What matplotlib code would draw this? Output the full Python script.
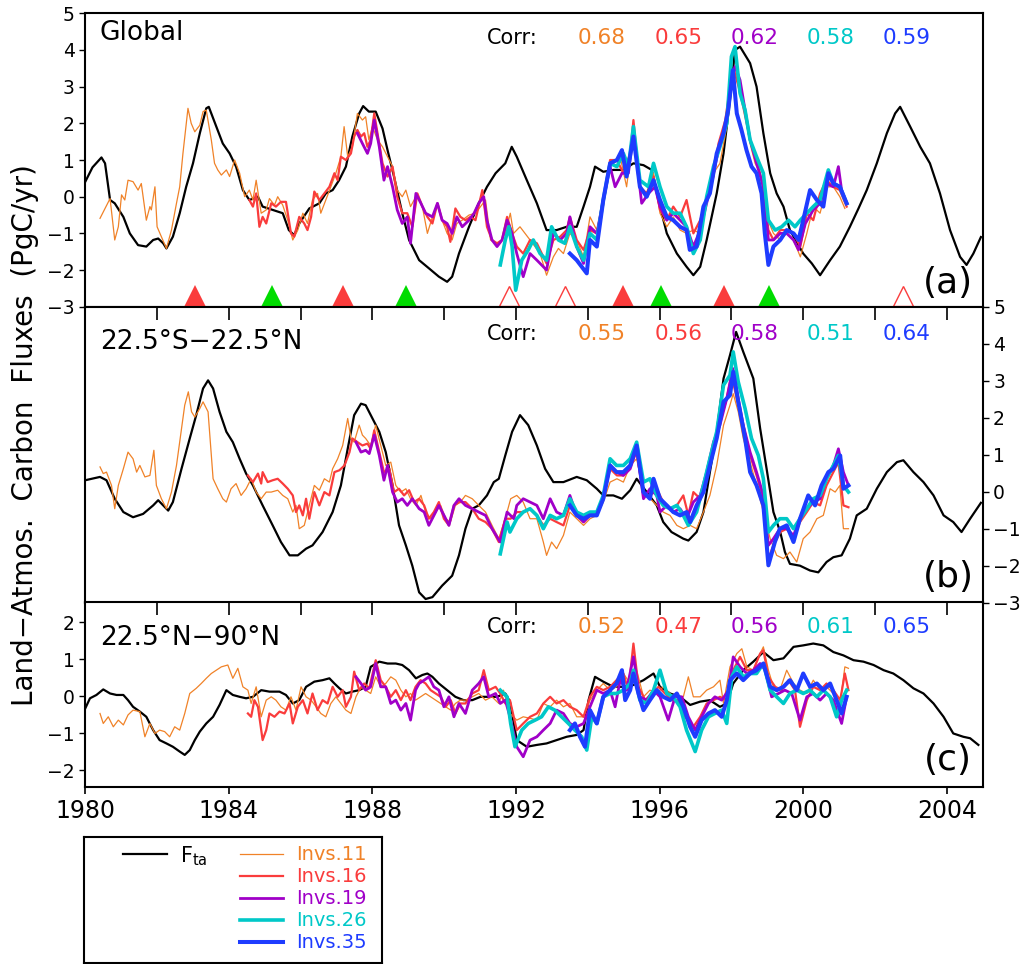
import matplotlib
matplotlib.use("Agg")
import matplotlib.pyplot as plt

# ---- data: (year, PgC/yr) -------------------------------------------------
# Fta (black) for the three regions
fta_global = [
    (1980.0, 0.41), (1980.2, 0.8), (1980.45, 1.07), (1980.55, 0.91), (1980.69, -0.09), (1980.82, -0.18),
    (1981.06, -0.55), (1981.24, -1.0), (1981.47, -1.32), (1981.7, -1.36), (1981.89, -1.18), (1982.03, -1.14),
    (1982.17, -1.27), (1982.26, -1.41), (1982.44, -1.09), (1982.63, -0.45), (1982.81, 0.27), (1983.0, 0.91),
    (1983.19, 1.73), (1983.37, 2.41), (1983.44, 2.45), (1983.65, 1.91), (1983.83, 1.45), (1984.02, 1.18),
    (1984.2, 0.82), (1984.39, 0.18), (1984.57, -0.09), (1984.81, 0.0), (1984.94, -0.27), (1985.22, -0.36),
    (1985.5, -0.45), (1985.67, -0.91), (1985.82, -1.05), (1985.96, -0.73), (1986.24, -0.32), (1986.52, -0.18),
    (1986.7, 0.09), (1986.89, 0.18), (1987.07, 0.45), (1987.26, 0.82), (1987.44, 1.64), (1987.63, 2.27),
    (1987.74, 2.47), (1987.9, 2.32), (1988.09, 2.32), (1988.28, 1.86), (1988.42, 1.27), (1988.6, 0.55),
    (1988.83, -0.45), (1989.02, -1.18), (1989.3, -1.73), (1989.57, -1.95), (1989.85, -2.18), (1990.08, -2.32),
    (1990.22, -2.18), (1990.41, -1.55), (1990.69, -0.82), (1990.96, -0.18), (1991.19, 0.27), (1991.43, 0.64),
    (1991.7, 0.91), (1991.88, 1.36), (1992.02, 1.09), (1992.3, 0.45), (1992.58, -0.18), (1992.85, -0.91),
    (1993.13, -0.91), (1993.41, -0.82), (1993.69, -0.82), (1993.88, -0.27), (1994.06, 0.27), (1994.2, 0.82),
    (1994.43, 0.68), (1994.71, 0.73), (1994.99, 0.73), (1995.27, 0.91), (1995.55, 0.86), (1995.78, 0.73),
    (1996.01, -0.27), (1996.2, -1.0), (1996.48, -1.55), (1996.75, -1.91), (1996.94, -2.14), (1997.13, -1.91),
    (1997.31, -1.18), (1997.59, 0.09), (1997.78, 1.18), (1997.96, 2.64), (1998.1, 4.0), (1998.24, 4.09),
    (1998.52, 3.64), (1998.7, 3.0), (1998.89, 1.73), (1999.08, 0.64), (1999.26, 0.09), (1999.45, -0.27),
    (1999.63, -0.91), (2000.0, -1.55), (2000.24, -1.82), (2000.47, -2.14), (2000.75, -1.73), (2001.02, -1.36),
    (2001.3, -0.82), (2001.54, -0.32), (2001.77, 0.18), (2002.05, 0.91), (2002.33, 1.73), (2002.56, 2.27),
    (2002.7, 2.45), (2002.98, 1.91), (2003.26, 1.36), (2003.53, 0.91), (2003.81, 0.09), (2004.09, -0.91),
    (2004.37, -1.64), (2004.55, -1.86), (2004.74, -1.55), (2004.95, -1.1),
]
fta_tropics = [
    (1980.0, 0.31), (1980.18, 0.35), (1980.41, 0.4), (1980.59, 0.31), (1980.82, -0.19), (1981.06, -0.55),
    (1981.33, -0.69), (1981.61, -0.6), (1981.89, -0.37), (1982.03, -0.23), (1982.17, -0.37), (1982.31, -0.51),
    (1982.44, -0.28), (1982.68, 0.62), (1982.91, 1.44), (1983.09, 2.07), (1983.28, 2.79), (1983.42, 3.01),
    (1983.56, 2.79), (1983.74, 2.16), (1983.93, 1.62), (1984.11, 1.34), (1984.3, 0.89), (1984.48, 0.49),
    (1984.67, 0.17), (1984.94, -0.37), (1985.22, -0.91), (1985.45, -1.36), (1985.69, -1.72), (1985.92, -1.72),
    (1986.15, -1.54), (1986.33, -1.45), (1986.61, -1.09), (1986.89, -0.55), (1987.12, 0.17), (1987.31, 1.16),
    (1987.49, 2.07), (1987.68, 2.38), (1987.81, 2.34), (1988.0, 1.98), (1988.19, 1.62), (1988.37, 1.07),
    (1988.56, 0.17), (1988.74, -0.91), (1988.93, -1.45), (1989.11, -2.0), (1989.3, -2.72), (1989.48, -2.9),
    (1989.67, -2.85), (1989.94, -2.54), (1990.22, -2.27), (1990.41, -1.72), (1990.59, -1.0), (1990.78, -0.46),
    (1990.96, -0.37), (1991.19, -0.1), (1991.38, 0.26), (1991.52, 0.35), (1991.7, 0.98), (1991.89, 1.62),
    (1992.11, 2.07), (1992.34, 1.8), (1992.58, 1.25), (1992.81, 0.62), (1993.04, 0.26), (1993.32, 0.26),
    (1993.69, 0.4), (1993.97, 0.31), (1994.25, 0.08), (1994.43, -0.1), (1994.71, -0.1), (1994.95, -0.19),
    (1995.18, 0.04), (1995.36, 0.35), (1995.64, -0.01), (1995.92, -0.37), (1996.1, -0.82), (1996.33, -1.09),
    (1996.66, -1.27), (1996.8, -1.32), (1997.03, -1.09), (1997.22, -0.55), (1997.4, 0.53), (1997.59, 1.62),
    (1997.78, 3.06), (1997.96, 3.69), (1998.13, 4.32), (1998.33, 3.78), (1998.61, 3.06), (1998.8, 1.71),
    (1998.98, 0.62), (1999.17, -0.55), (1999.36, -1.09), (1999.49, -1.63), (1999.63, -1.95), (1999.91, -2.0),
    (2000.19, -2.13), (2000.42, -2.18), (2000.65, -1.9), (2000.84, -1.77), (2001.07, -1.72), (2001.3, -1.27),
    (2001.49, -0.64), (2001.77, -0.46), (2002.05, 0.08), (2002.33, 0.53), (2002.61, 0.8), (2002.79, 0.85),
    (2003.07, 0.53), (2003.35, 0.26), (2003.63, -0.1), (2003.91, -0.64), (2004.18, -0.82), (2004.41, -1.09),
    (2004.65, -0.73), (2004.95, -0.3),
]
fta_north = [
    (1980.0, -0.33), (1980.13, -0.06), (1980.31, 0.03), (1980.5, 0.18), (1980.69, 0.07), (1980.87, 0.03),
    (1981.06, 0.03), (1981.19, -0.11), (1981.33, -0.29), (1981.52, -0.42), (1981.7, -0.56), (1981.89, -0.92),
    (1982.07, -1.19), (1982.26, -1.28), (1982.44, -1.37), (1982.63, -1.5), (1982.77, -1.59), (1982.91, -1.46),
    (1983.05, -1.19), (1983.19, -0.96), (1983.37, -0.74), (1983.56, -0.56), (1983.74, -0.24), (1983.93, 0.16),
    (1984.11, 0.03), (1984.3, -0.02), (1984.48, -0.06), (1984.67, -0.02), (1984.9, 0.16), (1985.13, 0.12),
    (1985.41, 0.12), (1985.59, 0.03), (1985.78, -0.2), (1985.96, -0.11), (1986.15, 0.25), (1986.38, 0.39),
    (1986.61, 0.43), (1986.8, 0.48), (1986.94, 0.34), (1987.08, 0.21), (1987.26, 0.07), (1987.44, 0.12),
    (1987.63, 0.16), (1987.81, 0.25), (1987.95, 0.79), (1988.19, 0.93), (1988.42, 0.88), (1988.65, 0.88),
    (1988.83, 0.84), (1989.02, 0.7), (1989.21, 0.48), (1989.39, 0.57), (1989.53, 0.61), (1989.67, 0.52),
    (1989.85, 0.34), (1990.08, 0.16), (1990.31, -0.02), (1990.54, -0.11), (1990.78, -0.11), (1991.01, -0.02),
    (1991.24, -0.02), (1991.47, -0.02), (1991.7, 0.07), (1991.83, -0.15), (1992.02, -1.19), (1992.3, -1.37),
    (1992.58, -1.32), (1992.85, -1.28), (1993.13, -1.19), (1993.41, -1.1), (1993.69, -1.05), (1993.88, -0.92),
    (1994.02, -0.11), (1994.2, 0.52), (1994.43, 0.39), (1994.71, 0.25), (1994.99, 0.25), (1995.27, 0.3),
    (1995.55, 0.43), (1995.83, 0.61), (1996.01, 0.25), (1996.29, 0.07), (1996.57, -0.02), (1996.85, -0.24),
    (1997.13, -0.15), (1997.4, -0.11), (1997.68, -0.29), (1997.87, -0.2), (1998.05, 0.34), (1998.33, 0.7),
    (1998.61, 0.93), (1998.89, 1.19), (1999.17, 0.97), (1999.45, 1.02), (1999.73, 1.33), (2000.0, 1.37),
    (2000.28, 1.42), (2000.56, 1.37), (2000.84, 1.19), (2001.12, 1.1), (2001.4, 0.97), (2001.68, 0.93),
    (2001.96, 0.84), (2002.24, 0.7), (2002.51, 0.61), (2002.79, 0.43), (2003.07, 0.21), (2003.35, 0.07),
    (2003.63, -0.2), (2003.91, -0.56), (2004.18, -1.01), (2004.46, -1.1), (2004.65, -1.14), (2004.88, -1.32),
]

# Invs.11
inv11_global = [
    (1980.41, -0.59), (1980.55, -0.32), (1980.69, -0.05), (1980.82, -1.18), (1980.92, -0.82), (1981.01, 0.05),
    (1981.1, -0.09), (1981.19, 0.45), (1981.33, 0.41), (1981.47, 0.18), (1981.56, 0.36), (1981.7, -0.64),
    (1981.8, -0.27), (1981.84, -0.36), (1981.94, 0.27), (1982.0, -0.82), (1982.12, -1.09), (1982.26, -1.41),
    (1982.4, -0.91), (1982.54, -0.18), (1982.63, 0.27), (1982.72, 1.18), (1982.86, 2.41), (1982.95, 2.0),
    (1983.05, 1.77), (1983.19, 1.95), (1983.28, 2.32), (1983.37, 2.36), (1983.51, 1.55), (1983.6, 0.91),
    (1983.69, 0.73), (1983.79, 0.59), (1983.93, 0.73), (1984.02, 0.55), (1984.16, 1.0), (1984.3, 0.64),
    (1984.44, 0.0), (1984.57, 0.18), (1984.67, -0.09), (1984.76, 0.45), (1984.9, -0.45), (1985.04, -0.36),
    (1985.13, -0.05), (1985.27, -0.23), (1985.36, 0.0), (1985.5, -0.23), (1985.64, -0.64), (1985.78, -1.18),
    (1985.92, -0.91), (1986.06, -0.45), (1986.19, -0.73), (1986.33, -0.09), (1986.47, 0.09), (1986.56, -0.45),
    (1986.7, -0.09), (1986.84, 0.27), (1986.98, 0.64), (1987.12, 1.09), (1987.21, 1.91), (1987.31, 1.09),
    (1987.44, 1.36), (1987.58, 2.27), (1987.72, 2.09), (1987.81, 2.18), (1987.9, 1.55), (1988.0, 1.91),
    (1988.14, 1.55), (1988.28, 1.36), (1988.42, 1.09), (1988.56, 0.82), (1988.69, 0.18), (1988.83, 0.0),
    (1988.93, 0.18), (1989.06, -0.27), (1989.16, -0.09), (1989.25, 0.0), (1989.39, -0.27), (1989.53, -1.0),
    (1989.67, -0.55), (1989.81, -0.18), (1989.94, -0.64), (1990.08, -1.0), (1990.22, -1.18), (1990.35, -0.73),
    (1990.5, -0.64), (1990.69, -0.5), (1990.87, -0.45), (1991.01, -0.27), (1991.15, -0.09), (1991.29, -1.18),
    (1991.43, -1.27), (1991.56, -1.27), (1991.7, -1.0), (1991.84, -0.45), (1991.93, -1.0), (1992.11, -0.82),
    (1992.39, -1.18), (1992.67, -1.55), (1992.85, -2.14), (1993.04, -1.64), (1993.18, -1.41), (1993.32, -1.55),
    (1993.5, -1.0), (1993.69, -1.18), (1993.88, -1.64), (1994.06, -0.55), (1994.25, -0.91), (1994.43, -0.27),
    (1994.62, 0.82), (1994.9, 1.09), (1995.08, 0.27), (1995.27, 1.73), (1995.45, 0.27), (1995.64, 0.09),
    (1995.83, 0.64), (1996.01, -0.45), (1996.2, -0.82), (1996.38, -0.55), (1996.57, -0.91), (1996.75, -1.0),
    (1996.94, -0.91), (1997.13, -1.0), (1997.31, -0.18), (1997.5, 0.64), (1997.68, 0.91), (1997.87, 1.91),
    (1998.0, 3.09), (1998.1, 3.55), (1998.24, 2.91), (1998.38, 2.36), (1998.52, 1.45), (1998.66, 0.91),
    (1998.8, 0.64), (1998.98, -0.55), (1999.17, -1.0), (1999.36, -1.18), (1999.54, -1.0), (1999.73, -1.18),
    (1999.92, -1.64), (2000.1, -1.0), (2000.28, -0.27), (2000.47, -0.45), (2000.65, 0.27), (2000.84, 0.27),
    (2001.02, 0.0), (2001.16, -0.32),
]
inv11_tropics = [
    (1980.41, 0.67), (1980.5, 0.49), (1980.59, 0.53), (1980.73, 0.17), (1980.82, -0.46), (1980.92, 0.17),
    (1981.06, 0.62), (1981.19, 1.07), (1981.33, 0.89), (1981.43, 0.53), (1981.52, 0.71), (1981.66, 0.4),
    (1981.8, 0.44), (1981.91, 1.12), (1981.98, 0.17), (1982.12, -0.19), (1982.26, -0.46), (1982.4, -0.01),
    (1982.54, 0.71), (1982.68, 1.71), (1982.77, 2.34), (1982.87, 2.7), (1982.96, 2.16), (1983.05, 2.02),
    (1983.19, 2.25), (1983.28, 2.43), (1983.42, 2.16), (1983.56, 0.35), (1983.69, 0.08), (1983.83, -0.19),
    (1983.93, -0.28), (1984.06, 0.08), (1984.2, 0.22), (1984.34, -0.1), (1984.48, 0.08), (1984.62, 0.35),
    (1984.76, -0.01), (1984.9, -0.19), (1985.04, -0.01), (1985.18, -0.01), (1985.36, 0.04), (1985.5, -0.1),
    (1985.64, -0.19), (1985.78, -0.55), (1985.87, -0.37), (1985.96, -1.0), (1986.1, -0.91), (1986.24, -0.37),
    (1986.38, 0.17), (1986.52, 0.04), (1986.66, 0.35), (1986.8, 0.26), (1986.89, 0.62), (1987.03, 0.89),
    (1987.17, 1.25), (1987.31, 1.98), (1987.4, 1.44), (1987.49, 1.34), (1987.63, 1.8), (1987.72, 1.53),
    (1987.81, 1.44), (1987.95, 1.25), (1988.09, 1.8), (1988.23, 1.25), (1988.37, 0.71), (1988.51, 0.8),
    (1988.65, 0.17), (1988.79, -0.01), (1988.93, 0.08), (1989.06, -0.19), (1989.21, -0.37), (1989.35, -0.1),
    (1989.48, -0.55), (1989.62, -0.73), (1989.76, -0.55), (1989.9, -0.37), (1990.04, -0.73), (1990.17, -0.82),
    (1990.31, -0.37), (1990.45, -0.28), (1990.59, -0.1), (1990.78, -0.19), (1990.96, -0.37), (1991.15, -0.55),
    (1991.33, -0.91), (1991.52, -1.27), (1991.7, -0.73), (1991.85, -0.19), (1992.02, -0.1), (1992.2, -0.28),
    (1992.39, -0.73), (1992.58, -0.73), (1992.76, -1.36), (1992.85, -1.72), (1992.99, -1.36), (1993.13, -1.54),
    (1993.32, -1.18), (1993.5, -0.55), (1993.69, -0.73), (1993.88, -0.91), (1994.06, -0.73), (1994.25, -0.64),
    (1994.43, -0.28), (1994.62, 0.26), (1994.81, 0.35), (1994.99, 0.26), (1995.18, 0.71), (1995.36, 0.89),
    (1995.55, -0.01), (1995.74, -0.19), (1995.92, -0.37), (1996.1, -0.55), (1996.29, -0.64), (1996.48, -0.91),
    (1996.66, -1.0), (1996.85, -0.91), (1997.03, -1.0), (1997.22, -0.55), (1997.4, -0.1), (1997.59, 0.71),
    (1997.78, 1.8), (1997.96, 2.34), (1998.05, 2.65), (1998.19, 2.16), (1998.33, 1.44), (1998.52, 0.8),
    (1998.7, 0.17), (1998.89, -0.55), (1999.08, -1.27), (1999.26, -1.72), (1999.45, -1.81), (1999.63, -1.63),
    (1999.82, -1.9), (2000.0, -1.27), (2000.19, -1.09), (2000.38, -0.73), (2000.56, -0.64), (2000.75, 0.08),
    (2000.89, -0.01), (2001.02, 0.17), (2001.12, -1.0), (2001.26, -1.0),
]
inv11_north = [
    (1980.41, -0.47), (1980.5, -0.74), (1980.64, -0.56), (1980.78, -0.83), (1980.92, -0.65), (1981.06, -0.78),
    (1981.19, -0.51), (1981.33, -0.38), (1981.52, -0.42), (1981.66, -1.1), (1981.8, -0.74), (1981.94, -1.01),
    (1982.07, -0.92), (1982.21, -0.96), (1982.35, -1.1), (1982.49, -0.83), (1982.63, -0.92), (1982.77, -0.47),
    (1982.91, 0.07), (1983.09, 0.21), (1983.23, 0.34), (1983.37, 0.48), (1983.51, 0.61), (1983.65, 0.7),
    (1983.79, 0.79), (1983.97, 0.84), (1984.11, 0.48), (1984.25, 0.75), (1984.39, 0.25), (1984.53, 0.16),
    (1984.62, -0.2), (1984.76, 0.25), (1984.9, -0.56), (1985.04, -0.11), (1985.18, -0.02), (1985.31, -0.11),
    (1985.45, -0.29), (1985.59, -0.38), (1985.73, -0.02), (1985.87, -0.38), (1986.01, 0.25), (1986.15, -0.02),
    (1986.29, -0.11), (1986.43, -0.29), (1986.56, -0.47), (1986.7, -0.56), (1986.84, -0.2), (1986.98, -0.02),
    (1987.12, -0.2), (1987.26, -0.38), (1987.4, -0.47), (1987.54, -0.02), (1987.68, 0.25), (1987.81, 0.16),
    (1987.95, 0.07), (1988.09, 0.52), (1988.23, 0.25), (1988.37, 0.34), (1988.51, 0.52), (1988.65, 0.43),
    (1988.79, 0.16), (1988.93, -0.02), (1989.06, 0.07), (1989.2, -0.11), (1989.34, -0.02), (1989.48, 0.07),
    (1989.62, -0.02), (1989.76, -0.11), (1989.9, -0.2), (1990.04, -0.29), (1990.18, -0.38), (1990.31, -0.2),
    (1990.45, -0.11), (1990.59, -0.11), (1990.78, -0.02), (1990.96, 0.07), (1991.15, -0.11), (1991.33, -0.02),
    (1991.52, -0.2), (1991.65, 0.16), (1991.83, -0.47), (1992.02, -0.65), (1992.2, -0.56), (1992.39, -0.6),
    (1992.58, -0.65), (1992.76, -0.2), (1992.95, -0.29), (1993.13, -0.11), (1993.32, -0.29), (1993.5, -0.2),
    (1993.69, -0.56), (1993.88, -0.56), (1994.06, -0.11), (1994.25, 0.16), (1994.43, 0.34), (1994.62, 0.16),
    (1994.8, 0.25), (1994.99, 0.61), (1995.18, 0.34), (1995.36, 0.7), (1995.55, -0.02), (1995.73, 0.16),
    (1995.92, 0.07), (1996.1, 0.25), (1996.29, 0.07), (1996.48, -0.11), (1996.66, -0.02), (1996.8, 0.52),
    (1996.94, -0.02), (1997.13, -0.02), (1997.31, 0.16), (1997.5, 0.25), (1997.68, 0.43), (1997.78, -0.2),
    (1997.96, 0.79), (1998.15, 1.15), (1998.29, 1.28), (1998.43, 0.79), (1998.61, 0.7), (1998.8, 1.15),
    (1998.89, 1.33), (1999.03, 0.7), (1999.17, 0.25), (1999.35, 0.16), (1999.54, 0.7), (1999.73, 0.34),
    (1999.91, 0.16), (2000.1, 0.07), (2000.28, 0.43), (2000.47, 0.16), (2000.65, 0.25), (2000.84, 0.07),
    (2001.03, -0.2), (2001.16, 0.79), (2001.26, 0.75),
]

# Invs.16
inv16_global = [
    (1984.57, -0.09), (1984.67, -0.27), (1984.76, 0.09), (1984.85, -0.82), (1984.94, -0.55), (1985.04, -0.73),
    (1985.18, -0.18), (1985.31, -0.27), (1985.45, -0.14), (1985.59, -0.14), (1985.73, -1.0), (1985.82, -1.09),
    (1985.96, -0.55), (1986.1, -0.73), (1986.19, -0.91), (1986.29, -0.55), (1986.38, 0.14), (1986.52, -0.09),
    (1986.66, 0.09), (1986.8, 0.27), (1986.94, 0.64), (1987.03, 0.45), (1987.12, 1.09), (1987.26, 1.0),
    (1987.4, 1.18), (1987.49, 1.64), (1987.58, 1.82), (1987.68, 1.64), (1987.77, 1.73), (1987.86, 1.36),
    (1987.95, 1.55), (1988.05, 2.27), (1988.14, 1.73), (1988.28, 0.91), (1988.42, 0.55), (1988.56, 0.82),
    (1988.69, 0.0), (1988.83, -0.45), (1988.97, -0.45), (1989.11, -0.82), (1989.25, 0.09), (1989.39, -0.27),
    (1989.53, -0.55), (1989.67, -0.73), (1989.81, -0.18), (1989.94, -0.64), (1990.08, -0.82), (1990.17, -1.23),
    (1990.31, -0.32), (1990.45, -0.55), (1990.59, -0.64), (1990.73, -0.55), (1990.87, -0.64), (1991.06, 0.18),
    (1991.19, -0.82), (1991.33, -1.18), (1991.47, -1.27), (1991.61, -1.18), (1991.75, -0.55), (1991.89, -1.0),
    (1992.02, -1.36), (1992.2, -1.55), (1992.39, -1.18), (1992.58, -1.27), (1992.85, -1.82), (1993.04, -1.18),
    (1993.23, -1.09), (1993.41, -0.91), (1993.5, -0.55), (1993.69, -1.18), (1993.88, -1.45), (1994.06, -0.91),
    (1994.25, -1.0), (1994.43, -0.09), (1994.62, 1.0), (1994.81, 1.0), (1994.99, 0.64), (1995.18, 1.18),
    (1995.27, 2.09), (1995.45, 0.27), (1995.64, 0.09), (1995.83, 0.55), (1996.01, -0.36), (1996.2, -0.64),
    (1996.38, -0.27), (1996.57, -0.55), (1996.75, -0.09), (1996.94, -1.0), (1997.13, -0.64), (1997.31, -0.09),
    (1997.5, 0.55), (1997.64, 1.45), (1997.83, 2.09), (1997.96, 3.0), (1998.07, 3.45), (1998.2, 3.0),
    (1998.33, 2.45), (1998.52, 1.55), (1998.7, 1.0), (1998.89, 0.27), (1999.03, -0.91), (1999.17, -1.18),
    (1999.36, -0.91), (1999.54, -0.91), (1999.73, -1.0), (1999.92, -1.36), (2000.1, -0.45), (2000.28, -0.64),
    (2000.47, 0.09), (2000.65, 0.45), (2000.84, 0.27), (2001.02, 0.18), (2001.21, -0.27),
]
inv16_tropics = [
    (1984.53, 0.44), (1984.67, 0.26), (1984.81, 0.49), (1984.9, 0.22), (1984.94, 0.53), (1985.08, 0.26),
    (1985.22, 0.31), (1985.36, 0.35), (1985.5, 0.22), (1985.64, 0.08), (1985.78, -0.1), (1985.87, -0.55),
    (1985.96, -0.37), (1986.06, -0.64), (1986.15, -0.19), (1986.24, -0.73), (1986.38, -0.01), (1986.52, -0.37),
    (1986.66, -0.01), (1986.8, -0.1), (1986.94, 0.53), (1987.08, 0.58), (1987.22, 0.71), (1987.36, 1.07),
    (1987.44, 1.44), (1987.58, 1.34), (1987.72, 1.25), (1987.86, 1.3), (1987.95, 1.16), (1988.05, 1.66),
    (1988.19, 1.07), (1988.32, 0.53), (1988.47, 0.62), (1988.6, -0.01), (1988.74, 0.08), (1988.88, -0.1),
    (1989.02, 0.04), (1989.16, -0.28), (1989.3, -0.19), (1989.44, -0.37), (1989.57, -0.73), (1989.71, -0.55),
    (1989.85, -0.28), (1989.99, -0.73), (1990.13, -0.91), (1990.27, -0.37), (1990.41, -0.28), (1990.59, -0.28),
    (1990.78, -0.46), (1990.96, -0.73), (1991.15, -0.82), (1991.33, -1.0), (1991.52, -1.36), (1991.7, -0.73),
    (1991.85, -0.73), (1992.02, -0.55), (1992.2, -0.55), (1992.39, -0.46), (1992.58, -0.64), (1992.76, -0.91),
    (1992.95, -0.73), (1993.13, -0.82), (1993.32, -0.91), (1993.5, -0.37), (1993.69, -0.64), (1993.88, -0.73),
    (1994.06, -0.64), (1994.25, -0.55), (1994.43, -0.19), (1994.62, 0.62), (1994.81, 0.44), (1994.99, 0.44),
    (1995.18, 0.71), (1995.36, 1.07), (1995.55, -0.1), (1995.74, -0.1), (1995.92, 0.08), (1996.1, -0.28),
    (1996.29, -0.46), (1996.48, -0.37), (1996.66, -0.1), (1996.8, -0.64), (1996.94, -0.01), (1997.13, -0.19),
    (1997.31, 0.35), (1997.5, 1.25), (1997.68, 1.89), (1997.87, 2.52), (1998.0, 3.15), (1998.15, 2.52),
    (1998.33, 1.8), (1998.52, 0.98), (1998.7, 0.44), (1998.89, -0.19), (1999.03, -1.81), (1999.17, -1.45),
    (1999.36, -1.09), (1999.54, -1.0), (1999.73, -1.27), (1999.91, -0.82), (2000.1, -0.55), (2000.28, -0.28),
    (2000.47, -0.37), (2000.65, 0.17), (2000.84, 0.53), (2000.98, 0.8), (2001.12, -0.37), (2001.26, -0.42),
]
inv16_north = [
    (1984.53, -0.47), (1984.62, -0.56), (1984.71, -0.11), (1984.81, -0.29), (1984.94, -1.19), (1985.04, -0.92),
    (1985.13, -0.47), (1985.27, -0.56), (1985.41, -0.42), (1985.55, -0.47), (1985.69, -0.2), (1985.78, -0.74),
    (1985.92, -0.29), (1986.06, -0.11), (1986.19, -0.47), (1986.33, 0.07), (1986.47, -0.38), (1986.61, -0.11),
    (1986.75, -0.2), (1986.89, 0.25), (1987.03, -0.02), (1987.17, 0.16), (1987.26, -0.29), (1987.4, -0.02),
    (1987.49, 0.66), (1987.63, 0.16), (1987.77, 0.34), (1987.91, 0.21), (1988.09, 0.97), (1988.23, 0.43),
    (1988.37, 0.25), (1988.51, -0.02), (1988.65, 0.16), (1988.79, -0.11), (1988.93, 0.16), (1989.06, -0.11),
    (1989.2, 0.25), (1989.34, 0.43), (1989.48, 0.34), (1989.62, 0.16), (1989.76, 0.07), (1989.9, -0.02),
    (1990.04, -0.29), (1990.18, -0.11), (1990.31, -0.47), (1990.45, -0.2), (1990.59, -0.2), (1990.78, 0.07),
    (1990.96, 0.16), (1991.1, 0.7), (1991.24, 0.16), (1991.43, 0.25), (1991.56, 0.07), (1991.7, -0.2),
    (1991.83, -0.11), (1992.02, -0.92), (1992.2, -0.74), (1992.39, -0.56), (1992.58, -0.47), (1992.76, -0.2),
    (1992.95, -0.02), (1993.13, -0.2), (1993.32, -0.11), (1993.5, -0.29), (1993.69, -0.38), (1993.88, -0.56),
    (1994.06, -0.02), (1994.25, 0.25), (1994.43, 0.16), (1994.62, 0.25), (1994.8, 0.43), (1994.99, 0.61),
    (1995.13, 0.16), (1995.27, 1.42), (1995.41, 0.25), (1995.6, -0.11), (1995.78, 0.07), (1995.97, 0.25),
    (1996.15, 0.07), (1996.34, -0.11), (1996.52, -0.11), (1996.71, -0.56), (1996.94, -0.83), (1997.13, -0.56),
    (1997.31, -0.2), (1997.5, -0.11), (1997.68, -0.02), (1997.87, -0.11), (1998.05, 0.7), (1998.24, 1.06),
    (1998.43, 0.7), (1998.61, 0.7), (1998.8, 1.15), (1998.89, 1.24), (1999.03, 0.52), (1999.22, 0.25),
    (1999.4, 0.16), (1999.59, 0.43), (1999.77, 0.16), (1999.91, -0.83), (2000.1, -0.11), (2000.28, 0.25),
    (2000.47, 0.16), (2000.65, 0.34), (2000.84, 0.16), (2001.03, -0.11), (2001.16, 0.61), (2001.26, 0.16),
]

# Invs.19
inv19_global = [
    (1987.58, 1.73), (1987.72, 1.45), (1987.86, 1.18), (1987.95, 1.45), (1988.05, 2.09), (1988.19, 1.36),
    (1988.32, 0.45), (1988.42, 0.82), (1988.56, 0.27), (1988.69, -0.36), (1988.83, -0.73), (1988.97, -0.55),
    (1989.06, -1.27), (1989.21, 0.09), (1989.35, -0.18), (1989.48, -0.45), (1989.67, -0.55), (1989.81, -0.18),
    (1989.94, -0.64), (1990.08, -0.73), (1990.22, -1.0), (1990.35, -0.55), (1990.5, -0.82), (1990.69, -0.64),
    (1990.83, -0.45), (1990.96, -0.18), (1991.1, 0.0), (1991.19, -0.64), (1991.33, -1.18), (1991.47, -1.36),
    (1991.61, -1.18), (1991.75, -0.64), (1991.89, -1.0), (1992.02, -1.55), (1992.2, -2.18), (1992.39, -1.55),
    (1992.58, -1.73), (1992.85, -2.0), (1993.04, -1.0), (1993.23, -1.18), (1993.41, -1.0), (1993.5, -0.55),
    (1993.69, -1.36), (1993.88, -1.82), (1994.06, -0.82), (1994.25, -1.0), (1994.43, -0.09), (1994.62, 0.82),
    (1994.76, 0.27), (1994.95, 0.64), (1995.13, 0.64), (1995.27, 1.73), (1995.5, -0.18), (1995.69, 0.09),
    (1995.87, 0.27), (1996.01, -0.27), (1996.2, -0.64), (1996.38, -0.45), (1996.57, -0.64), (1996.75, -0.82),
    (1996.94, -1.36), (1997.13, -0.91), (1997.31, -0.18), (1997.5, 0.64), (1997.68, 1.45), (1997.87, 2.09),
    (1998.0, 3.27), (1998.1, 3.55), (1998.24, 3.18), (1998.38, 2.36), (1998.52, 1.55), (1998.7, 0.91),
    (1998.89, 0.27), (1999.03, -1.18), (1999.17, -1.18), (1999.36, -1.0), (1999.54, -1.0), (1999.73, -1.18),
    (1999.87, -1.45), (2000.06, -0.73), (2000.28, -0.36), (2000.47, -0.18), (2000.65, 0.36), (2000.84, 0.27),
    (2000.98, 0.82), (2001.07, 0.18), (2001.21, -0.18),
]
inv19_tropics = [
    (1987.54, 1.34), (1987.68, 1.07), (1987.81, 1.12), (1987.91, 1.03), (1988.05, 1.53), (1988.19, 0.98),
    (1988.32, 0.31), (1988.42, 0.71), (1988.56, -0.01), (1988.69, -0.28), (1988.83, -0.19), (1988.97, -0.37),
    (1989.11, -0.19), (1989.3, -0.46), (1989.44, -0.55), (1989.57, -0.91), (1989.76, -0.55), (1989.85, -0.37),
    (1990.04, -0.73), (1990.13, -0.91), (1990.27, -0.37), (1990.41, -0.19), (1990.59, -0.37), (1990.78, -0.46),
    (1990.96, -0.55), (1991.15, -0.64), (1991.33, -1.0), (1991.56, -1.36), (1991.75, -0.55), (1991.94, -0.73),
    (1992.02, -0.37), (1992.2, -0.19), (1992.39, -0.28), (1992.58, -0.37), (1992.76, -0.73), (1992.95, -0.19),
    (1993.13, -0.55), (1993.32, -0.64), (1993.5, -0.1), (1993.69, -0.64), (1993.88, -0.82), (1994.06, -0.64),
    (1994.25, -0.55), (1994.43, -0.19), (1994.62, 0.71), (1994.8, 0.53), (1994.99, 0.44), (1995.18, 0.62),
    (1995.36, 1.16), (1995.55, -0.19), (1995.73, 0.08), (1995.92, -0.1), (1996.01, -0.55), (1996.2, -0.37),
    (1996.38, -0.55), (1996.57, -0.46), (1996.75, -0.73), (1996.94, -0.28), (1997.13, -0.1), (1997.31, 0.53),
    (1997.5, 1.34), (1997.68, 1.8), (1997.87, 2.52), (1998.04, 3.33), (1998.19, 2.52), (1998.33, 1.8),
    (1998.52, 1.07), (1998.7, 0.53), (1998.89, -0.1), (1999.03, -1.45), (1999.17, -1.27), (1999.35, -1.0),
    (1999.54, -1.0), (1999.73, -1.18), (1999.91, -0.73), (2000.1, -0.46), (2000.28, -0.28), (2000.47, -0.19),
    (2000.65, 0.35), (2000.84, 0.71), (2000.98, 1.16), (2001.12, 0.53), (2001.26, 0.17),
]
inv19_north = [
    (1987.54, 0.52), (1987.68, 0.34), (1987.81, 0.16), (1987.95, 0.25), (1988.09, 0.88), (1988.23, 0.25),
    (1988.37, 0.25), (1988.51, -0.2), (1988.65, -0.11), (1988.79, -0.38), (1988.93, -0.2), (1989.06, -0.65),
    (1989.2, 0.16), (1989.3, 0.34), (1989.44, 0.43), (1989.57, 0.52), (1989.71, 0.25), (1989.85, 0.16),
    (1989.99, -0.29), (1990.13, -0.02), (1990.27, -0.56), (1990.41, -0.2), (1990.59, -0.47), (1990.78, 0.16),
    (1990.96, 0.34), (1991.1, 0.52), (1991.24, -0.02), (1991.43, 0.07), (1991.56, -0.2), (1991.7, -0.11),
    (1991.83, -0.56), (1992.02, -1.37), (1992.2, -1.64), (1992.39, -1.19), (1992.58, -1.1), (1992.76, -0.92),
    (1992.95, -0.74), (1993.13, -0.38), (1993.32, -0.47), (1993.5, -0.74), (1993.69, -0.83), (1993.88, -0.74),
    (1994.06, -0.29), (1994.25, 0.16), (1994.43, 0.07), (1994.62, 0.16), (1994.76, -0.29), (1994.9, 0.43),
    (1995.08, 0.16), (1995.27, 1.06), (1995.45, -0.02), (1995.64, -0.11), (1995.83, 0.16), (1996.01, -0.02),
    (1996.24, -0.65), (1996.43, -0.02), (1996.62, -0.02), (1996.8, -0.56), (1996.99, -0.92), (1997.17, -0.56),
    (1997.36, -0.2), (1997.54, -0.02), (1997.73, -0.11), (1997.92, 0.16), (1998.05, 1.06), (1998.24, 0.79),
    (1998.43, 0.61), (1998.61, 0.7), (1998.8, 0.88), (1998.94, 0.7), (1999.12, -0.02), (1999.31, 0.07),
    (1999.49, 0.16), (1999.68, 0.07), (1999.91, -0.65), (2000.1, -0.02), (2000.28, 0.07), (2000.47, -0.11),
    (2000.65, 0.07), (2000.84, -0.11), (2001.07, -0.74), (2001.21, -0.02),
]

# Invs.26
inv26_global = [
    (1991.56, -1.86), (1991.7, -1.18), (1991.8, -0.82), (1991.89, -1.36), (1991.99, -2.55), (1992.16, -1.73),
    (1992.34, -1.45), (1992.48, -1.18), (1992.67, -1.55), (1992.85, -1.73), (1992.99, -0.82), (1993.18, -1.18),
    (1993.36, -1.27), (1993.5, -0.82), (1993.69, -1.36), (1993.88, -1.73), (1994.06, -1.0), (1994.25, -1.18),
    (1994.43, -0.09), (1994.62, 0.91), (1994.81, 0.82), (1994.99, 1.18), (1995.13, 0.82), (1995.27, 1.91),
    (1995.45, 0.45), (1995.69, 0.27), (1995.83, 0.91), (1996.01, 0.27), (1996.2, -0.27), (1996.38, -0.45),
    (1996.57, -0.45), (1996.75, -0.82), (1996.94, -1.55), (1997.13, -1.18), (1997.31, 0.0), (1997.5, 0.82),
    (1997.68, 1.36), (1997.87, 2.0), (1998.0, 3.82), (1998.1, 4.09), (1998.24, 2.82), (1998.38, 2.36),
    (1998.52, 1.55), (1998.7, 1.09), (1998.89, 0.64), (1999.03, -0.64), (1999.22, -0.91), (1999.4, -0.82),
    (1999.59, -0.64), (1999.77, -0.82), (1999.92, -0.64), (2000.1, -0.45), (2000.28, -0.27), (2000.47, -0.09),
    (2000.7, 0.73), (2000.84, 0.36), (2001.02, 0.27), (2001.21, -0.18),
]
inv26_tropics = [
    (1991.56, -1.68), (1991.75, -0.82), (1991.83, -1.09), (1992.02, -0.73), (1992.2, -0.55), (1992.39, -0.46),
    (1992.58, -0.64), (1992.76, -1.0), (1992.95, -0.64), (1993.13, -0.73), (1993.32, -0.64), (1993.5, -0.19),
    (1993.69, -0.55), (1993.88, -0.64), (1994.06, -0.55), (1994.25, -0.55), (1994.43, -0.1), (1994.62, 0.89),
    (1994.8, 0.71), (1994.99, 0.71), (1995.18, 0.89), (1995.36, 1.34), (1995.55, 0.26), (1995.73, 0.35),
    (1995.92, -0.1), (1996.1, -0.37), (1996.29, -0.46), (1996.48, -0.37), (1996.66, -0.64), (1996.8, -0.91),
    (1997.03, -0.55), (1997.22, 0.17), (1997.4, 0.89), (1997.59, 1.62), (1997.78, 2.88), (1997.96, 3.15),
    (1998.05, 3.78), (1998.19, 2.97), (1998.38, 2.25), (1998.56, 1.44), (1998.75, 0.98), (1998.89, 0.35),
    (1999.03, -1.09), (1999.17, -0.91), (1999.35, -0.73), (1999.54, -0.73), (1999.73, -1.0), (1999.91, -0.73),
    (2000.1, -0.46), (2000.28, -0.19), (2000.47, -0.1), (2000.65, 0.35), (2000.84, 0.71), (2000.98, 0.98),
    (2001.12, 0.17), (2001.26, -0.01),
]
inv26_north = [
    (1991.56, 0.16), (1991.75, -0.02), (1991.85, -0.74), (1991.97, -1.37), (1992.16, -0.92), (1992.34, -0.74),
    (1992.53, -0.65), (1992.71, -0.56), (1992.9, -0.29), (1993.08, -0.38), (1993.27, -0.56), (1993.46, -0.74),
    (1993.64, -0.92), (1993.83, -1.1), (1993.97, -1.46), (1994.11, -0.56), (1994.25, -0.74), (1994.43, -0.02),
    (1994.62, 0.07), (1994.8, 0.07), (1994.99, 0.16), (1995.18, 0.34), (1995.27, 0.7), (1995.45, -0.11),
    (1995.64, -0.2), (1995.83, 0.16), (1996.01, 0.7), (1996.2, 0.07), (1996.38, -0.02), (1996.57, -0.29),
    (1996.75, -0.92), (1996.99, -1.5), (1997.17, -0.92), (1997.36, -0.56), (1997.54, -0.47), (1997.73, -0.38),
    (1997.87, -0.74), (1998.01, 0.52), (1998.15, 0.79), (1998.33, 0.52), (1998.52, 0.61), (1998.7, 0.61),
    (1998.89, 0.88), (1999.08, 0.16), (1999.26, -0.02), (1999.45, -0.2), (1999.63, 0.07), (1999.82, 0.16),
    (2000.0, 0.07), (2000.19, 0.16), (2000.38, -0.02), (2000.56, 0.16), (2000.75, -0.02), (2000.93, -0.56),
    (2001.07, -0.11), (2001.21, 0.16),
]

# Invs.35
inv35_global = [
    (1993.5, -1.55), (1993.69, -1.73), (1993.83, -1.91), (1993.97, -2.09), (1994.06, -1.18), (1994.25, -1.36),
    (1994.43, -0.09), (1994.62, 0.91), (1994.81, 1.0), (1994.95, 1.27), (1995.08, 0.55), (1995.27, 1.64),
    (1995.45, 0.27), (1995.64, 0.0), (1995.83, 0.45), (1996.01, -0.09), (1996.2, -0.55), (1996.38, -0.64),
    (1996.57, -0.82), (1996.75, -0.91), (1996.84, -1.45), (1997.03, -1.36), (1997.22, -0.27), (1997.4, 0.09),
    (1997.59, 1.18), (1997.78, 1.73), (1997.91, 2.36), (1998.04, 3.45), (1998.15, 2.27), (1998.28, 1.82),
    (1998.42, 1.27), (1998.56, 0.82), (1998.7, 0.64), (1998.84, 0.09), (1998.93, -1.0), (1999.03, -1.86),
    (1999.17, -1.36), (1999.36, -1.18), (1999.54, -0.91), (1999.73, -1.0), (1999.87, -1.18), (2000.0, -0.64),
    (2000.19, 0.18), (2000.38, -0.09), (2000.56, -0.27), (2000.7, 0.64), (2000.84, 0.36), (2001.02, 0.27),
    (2001.21, -0.18),
]
inv35_tropics = [
    (1993.5, -0.37), (1993.69, -0.64), (1993.88, -0.73), (1994.06, -0.64), (1994.25, -0.64), (1994.43, -0.19),
    (1994.62, 0.71), (1994.8, 0.53), (1994.99, 0.53), (1995.18, 0.71), (1995.36, 1.25), (1995.55, -0.01),
    (1995.73, -0.19), (1995.83, 0.35), (1996.01, -0.19), (1996.2, -0.37), (1996.38, -0.55), (1996.57, -0.64),
    (1996.75, -0.55), (1996.85, -0.82), (1997.03, -0.37), (1997.22, -0.01), (1997.4, 0.71), (1997.59, 1.44),
    (1997.78, 2.43), (1997.96, 2.61), (1998.05, 3.24), (1998.19, 2.43), (1998.38, 1.44), (1998.52, 0.53),
    (1998.7, 0.17), (1998.89, -0.37), (1999.03, -1.99), (1999.21, -1.36), (1999.35, -1.0), (1999.54, -0.91),
    (1999.73, -1.36), (1999.91, -0.73), (2000.14, -0.1), (2000.33, -0.37), (2000.51, 0.17), (2000.7, 0.53),
    (2000.84, 0.62), (2001.03, 0.98), (2001.12, 0.08), (2001.26, 0.17),
]
inv35_north = [
    (1993.5, -0.92), (1993.64, -0.74), (1993.78, -1.1), (1993.92, -1.37), (1994.06, -0.38), (1994.25, -0.74),
    (1994.43, -0.02), (1994.62, 0.16), (1994.8, 0.34), (1994.95, 0.7), (1995.04, -0.11), (1995.18, 0.16),
    (1995.27, 0.61), (1995.41, 0.07), (1995.55, -0.38), (1995.73, -0.11), (1995.92, 0.16), (1996.1, -0.02),
    (1996.29, -0.11), (1996.48, 0.07), (1996.66, -0.29), (1996.85, -0.83), (1996.99, -1.1), (1997.17, -0.65),
    (1997.36, -0.47), (1997.54, -0.38), (1997.73, -0.56), (1997.87, -0.11), (1997.96, 0.43), (1998.15, 0.61),
    (1998.33, 0.43), (1998.52, 0.61), (1998.7, 0.7), (1998.89, 0.88), (1999.08, 0.25), (1999.26, 0.16),
    (1999.45, 0.25), (1999.63, 0.43), (1999.82, 0.16), (2000.0, 0.61), (2000.19, 0.25), (2000.38, 0.34),
    (2000.56, 0.16), (2000.75, 0.34), (2000.93, -0.11), (2001.07, -0.47), (2001.21, -0.02),
]

# correlation with Fta, per region, in legend order
corr_global = [0.68, 0.65, 0.62, 0.58, 0.59]
corr_tropics = [0.55, 0.56, 0.58, 0.51, 0.64]
corr_north = [0.52, 0.47, 0.56, 0.61, 0.65]

# ENSO markers on the global panel
el_nino_years = [1983.05, 1987.17, 1994.97, 1997.8]
la_nina_years = [1985.19, 1988.94, 1996.03, 1999.05]
weak_event_years = [1991.8, 1993.36, 2002.77]

inv_names = ["Invs.11", "Invs.16", "Invs.19", "Invs.26", "Invs.35"]

# ---- styling --------------------------------------------------------------
inv_colors = ["#f08228", "#fa3c3c", "#a000c8", "#00c8c8", "#1e3cff"]
inv_widths = [0.9, 1.6, 2.0, 2.6, 2.9]
green = "#00dc00"

plt.rcParams["font.family"] = "DejaVu Sans"

fig = plt.figure(figsize=(10.29, 9.64), dpi=100)
left, width = 0.0829, 0.8721
ax_a = fig.add_axes([left, 0.6818, width, 0.3044])
ax_b = fig.add_axes([left, 0.3748, width, 0.3070])
ax_c = fig.add_axes([left, 0.1839, width, 0.1919])


def draw_panel(ax, fta, invs, corr, title, title_y, corr_y, tag, tag_y):
    t, v = zip(*fta)
    ax.plot(t, v, color="black", lw=1.6, zorder=3)
    for series, col, lw in zip(invs, inv_colors, inv_widths):
        t, v = zip(*series)
        ax.plot(t, v, color=col, lw=lw, zorder=4)
    ax.set_xlim(1980, 2005)
    for s in ax.spines.values():
        s.set_linewidth(1.5)
    ax.text(0.016, title_y, title, transform=ax.transAxes, fontsize=19,
            ha="left", va="center")
    ax.text(0.4476, corr_y, "Corr:", transform=ax.transAxes, fontsize=15,
            ha="left", va="center")
    for i, (c, col) in enumerate(zip(corr, inv_colors)):
        ax.text(0.5757 + 0.0850 * i, corr_y, f"{c:.2f}", transform=ax.transAxes,
                fontsize=15.5, color=col, ha="center", va="center")
    ax.text(0.9613, tag_y, tag, transform=ax.transAxes, fontsize=26,
            ha="center", va="center")


draw_panel(ax_a, fta_global,
           [inv11_global, inv16_global, inv19_global, inv26_global, inv35_global],
           corr_global, "Global", 0.933, 0.9175, "(a)", 0.081)
draw_panel(ax_b, fta_tropics,
           [inv11_tropics, inv16_tropics, inv19_tropics, inv26_tropics, inv35_tropics],
           corr_tropics, "22.5°S\u221222.5°N", 0.882, 0.908, "(b)", 0.087)
draw_panel(ax_c, fta_north,
           [inv11_north, inv16_north, inv19_north, inv26_north, inv35_north],
           corr_north, "22.5°N\u221290°N", 0.806, 0.861, "(c)", 0.144)

# y axes
ax_a.set_ylim(-3, 5)
ax_a.set_yticks(range(-3, 6))
ax_b.set_ylim(-3, 5)
ax_b.set_yticks(range(-3, 6))
ax_b.yaxis.tick_right()
ax_c.set_ylim(-2.45, 2.55)
ax_c.set_yticks(range(-2, 3))
for ax in (ax_a, ax_b, ax_c):
    ax.tick_params(axis="y", direction="out", labelsize=13.5, width=1.0, length=4)

# x axes: inward 2-yr ticks along the top of (b) and (c), labels under (c)
ax_a.tick_params(axis="x", bottom=False, top=False, labelbottom=False)
ax_b.set_xticks(range(1980, 2006, 2))
ax_b.tick_params(axis="x", bottom=False, top=True, labelbottom=False,
                 direction="in", length=9, width=1.2)
ax_c.xaxis.remove_overlapping_locs = False
ax_c.set_xticks(range(1980, 2005, 4))
ax_c.set_xticks(range(1980, 2006, 2), minor=True)
ax_c.tick_params(axis="x", which="major", bottom=True, top=False, direction="out",
                 length=5, width=1.2, labelsize=17, pad=4)
ax_c.tick_params(axis="x", which="minor", bottom=False, top=True, direction="in",
                 length=9, width=1.2)

# ENSO triangles sitting on the bottom axis of (a)
tri_y = -3 + 0.28
ax_a.plot(el_nino_years, [tri_y] * len(el_nino_years), ls="none", marker="^",
          ms=15.5, color=inv_colors[1], mew=0, clip_on=False, zorder=6)
ax_a.plot(la_nina_years, [tri_y] * len(la_nina_years), ls="none", marker="^",
          ms=15.5, color=green, mew=0, clip_on=False, zorder=6)
ax_a.plot(weak_event_years, [tri_y] * len(weak_event_years), ls="none", marker="^",
          ms=14.5, mfc="white", mec=inv_colors[1], mew=1.0, clip_on=False, zorder=6)

fig.text(0.024, 0.549, "Land\u2212Atmos.  Carbon  Fluxes  (PgC/yr)", rotation=90,
         ha="center", va="center", fontsize=20)

# legend box
lg = fig.add_axes([84 / 1029, 0.001, 298 / 1029, 126 / 964])
lg.set_xlim(0, 298)
lg.set_ylim(126, 0)
lg.set_xticks([])
lg.set_yticks([])
for s in lg.spines.values():
    s.set_linewidth(1.5)
lg.plot([39, 83], [17, 17], color="black", lw=1.6)
lg.text(96, 19, r"F$_{\rm ta}$", fontsize=15, ha="left", va="center")
for i, (name, col, lw) in enumerate(zip(inv_names, inv_colors, inv_widths)):
    y = 17 + 22 * i
    lg.plot([156, 199], [y, y], color=col, lw=lw)
    lg.text(212, y, name, color=col, fontsize=14, ha="left", va="center")

fig.savefig("out.png", dpi=100)
